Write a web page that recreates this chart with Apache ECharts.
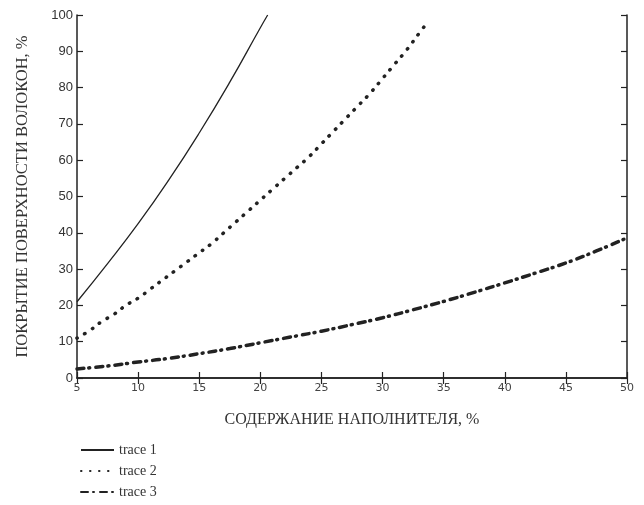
<!DOCTYPE html>
<html>
<head>
<meta charset="utf-8">
<script src="https://cdn.jsdelivr.net/npm/echarts@6/dist/echarts.min.js"></script>
<style>html,body{margin:0;padding:0;background:#fff}#c{width:644px;height:505px}</style>
</head>
<body>
<div id="c"></div>
<script>
var xTitle = "СОДЕРЖАНИЕ НАПОЛНИТЕЛЯ, %";
var yTitle = "ПОКРЫТИЕ ПОВЕРХНОСТИ ВОЛОКОН, %";
var seriesNames = ["trace 1", "trace 2", "trace 3"];

var trace1X = [5, 7.5, 10, 12.5, 15, 17.5, 20, 20.6];
var trace1Y = [21, 31.5, 42.5, 54.5, 67.5, 81.5, 96.5, 100];

var trace2X = [5, 6, 7, 8, 9, 10, 11, 12, 13, 14, 15, 16, 17, 18, 19, 20, 21, 22, 23, 24, 25, 26, 27, 28, 29, 30, 31, 32, 33, 33.8];
var trace2Y = [11, 13, 15.5, 17.5, 20, 22, 24.5, 27, 29.5, 32, 34.5, 37, 40, 43, 46, 49, 52, 55, 58, 61, 64.5, 68, 71.5, 75, 78.5, 82.5, 86.5, 90.5, 95, 98.5];

var trace3X = [5, 7.5, 10, 12.5, 15, 17.5, 20, 22.5, 25, 27.5, 30, 32.5, 35, 37.5, 40, 42.5, 45, 47.5, 50];
var trace3Y = [2.5, 3.3, 4.4, 5.4, 6.7, 8.1, 9.7, 11.3, 12.9, 14.7, 16.6, 18.8, 21.1, 23.6, 26.2, 28.9, 31.7, 35, 38.6];

function pairs(xs, ys) { return xs.map(function (x, i) { return [x, ys[i]]; }); }

var chart = echarts.init(document.getElementById('c'), null, { renderer: 'canvas' });
var axisLine = { show: true, lineStyle: { color: '#222', width: 1.5 } };
var tick = { show: true, inside: true, length: 6, lineStyle: { color: '#222', width: 1.2 } };
chart.setOption({
  backgroundColor: '#fff',
  animation: false,
  grid: { left: 77, right: 17, top: 15, bottom: 127, containLabel: false },
  legend: {
    orient: 'vertical', left: 80, top: 443, padding: 0, itemWidth: 33, itemHeight: 14, itemGap: 7,
    itemStyle: { opacity: 0 },
    textStyle: { fontFamily: 'Liberation Serif', fontSize: 14, color: '#333' },
    data: seriesNames
  },
  xAxis: [{
    type: 'value', min: 5, max: 50, interval: 5, position: 'bottom',
    name: xTitle, nameLocation: 'middle', nameGap: 34,
    nameTextStyle: { fontFamily: 'Liberation Serif', fontSize: 16, color: '#333' },
    axisLine: axisLine, axisTick: tick, splitLine: { show: false },
    axisLabel: { fontFamily: 'DejaVu Sans', fontSize: 11, color: '#444', margin: 5 }
  }, {
    type: 'value', min: 5, max: 50, interval: 5, position: 'top',
    axisLine: axisLine, axisTick: tick, splitLine: { show: false }, axisLabel: { show: false }
  }],
  yAxis: [{
    type: 'value', min: 0, max: 100, interval: 10, position: 'left',
    name: yTitle, nameLocation: 'middle', nameGap: 46,
    nameTextStyle: { fontFamily: 'Liberation Serif', fontSize: 16.5, color: '#333' },
    axisLine: axisLine, axisTick: tick, splitLine: { show: false },
    axisLabel: { fontFamily: 'Liberation Sans', fontSize: 13, color: '#333', margin: 4 }
  }, {
    type: 'value', min: 0, max: 100, interval: 10, position: 'right',
    axisLine: axisLine, axisTick: tick, splitLine: { show: false }, axisLabel: { show: false }
  }],
  series: [{
    name: seriesNames[0], type: 'line', smooth: true, symbol: 'none',
    data: pairs(trace1X, trace1Y),
    lineStyle: { color: '#222', width: 1.3, type: 'solid' },
    itemStyle: { color: '#222' }
  }, {
    name: seriesNames[1], type: 'line', smooth: true, symbol: 'none',
    data: pairs(trace2X, trace2Y),
    lineStyle: { color: '#222', width: 3.5, type: [0.5, 8.5], cap: 'round' },
    itemStyle: { color: '#222' }
  }, {
    name: seriesNames[2], type: 'line', smooth: true, symbol: 'none',
    data: pairs(trace3X, trace3Y),
    lineStyle: { color: '#222', width: 3.5, type: [7, 5, 1, 6], cap: 'round' },
    itemStyle: { color: '#222' }
  }]
});
</script>
</body>
</html>
